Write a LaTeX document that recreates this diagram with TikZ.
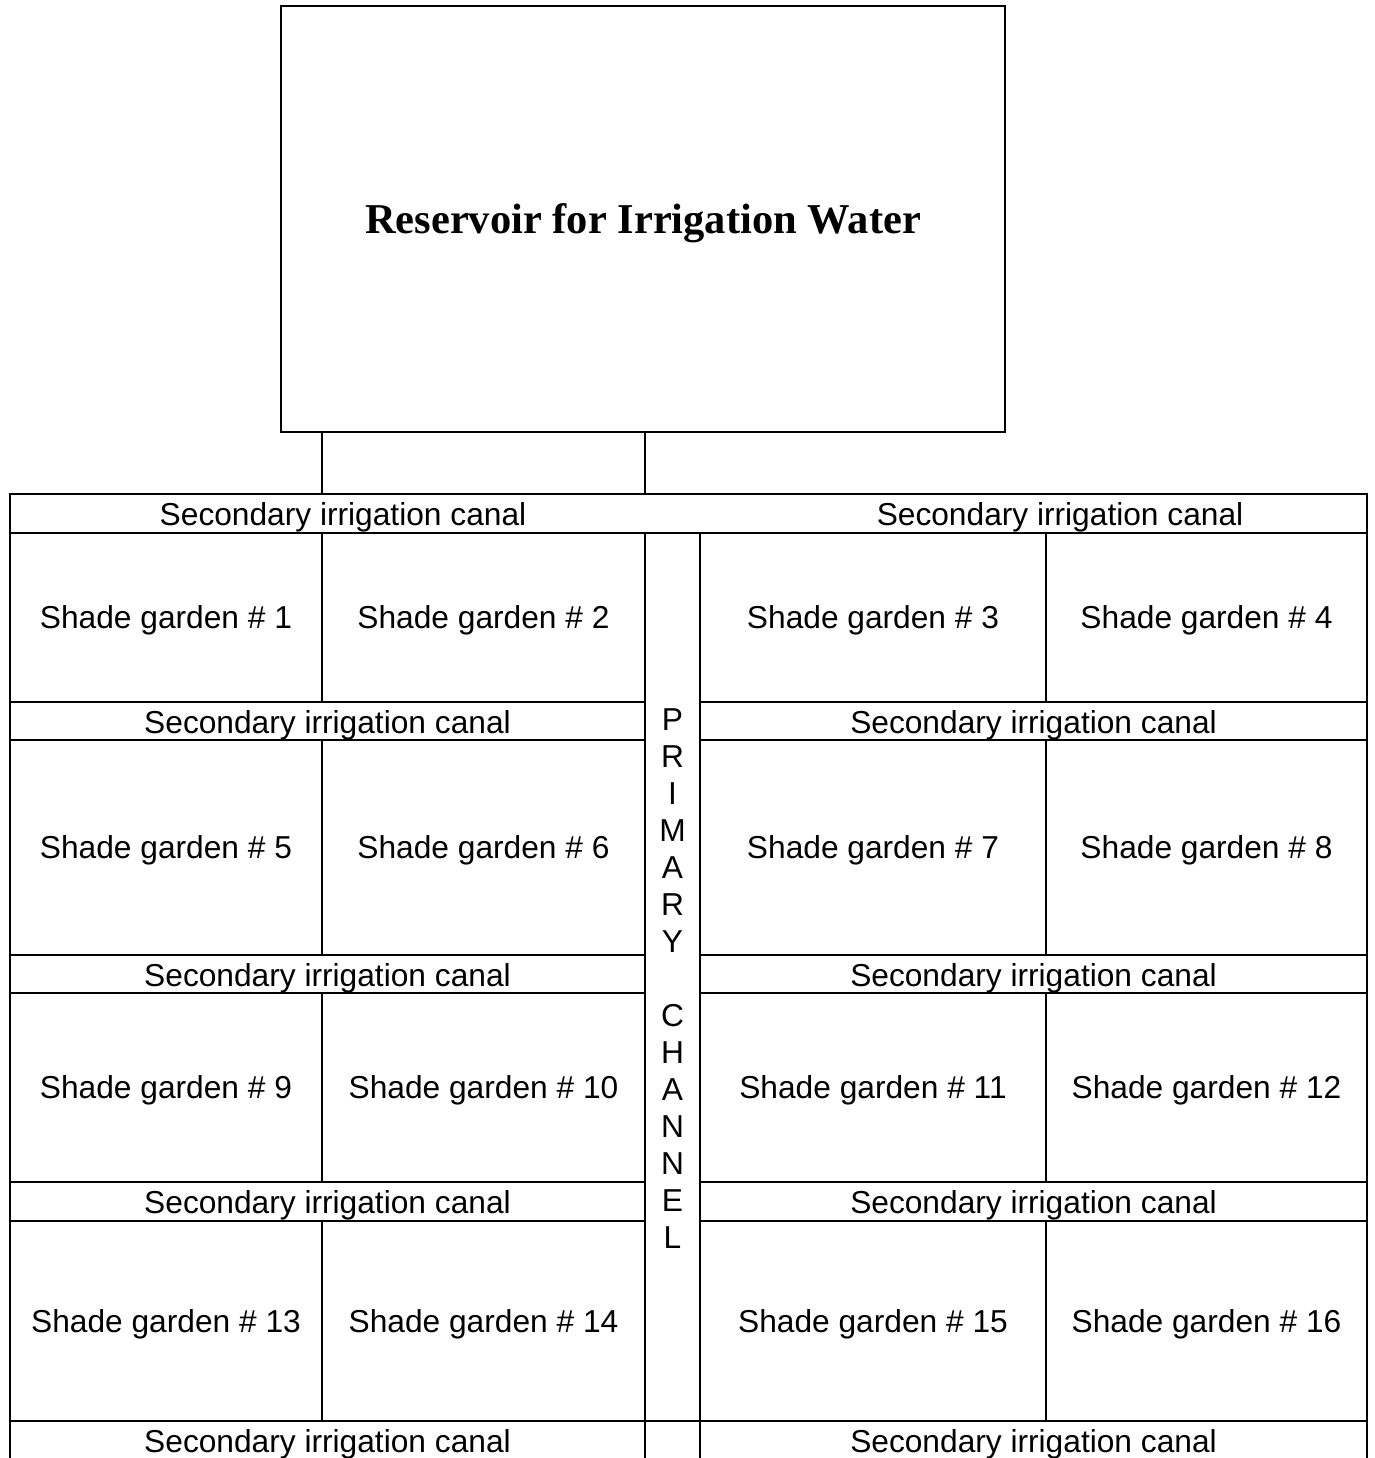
\documentclass[tikz,border=0pt]{standalone}
\usepackage{fontspec}
\setmainfont{Liberation Serif}
\newfontfamily\canalfont{Liberation Sans}

\tikzset{
  plan/.style={line width=1.6pt, line cap=rect},
  canal/.style={font=\canalfont\fontsize{31.7}{37}\selectfont, anchor=base, inner sep=0pt},
  garden/.style={canal},
  letter/.style={font=\canalfont\fontsize{31.7}{37}\selectfont, inner sep=0pt},
}

\begin{document}
\begin{tikzpicture}[x=1pt,y=-1pt]
\useasboundingbox (0,0) rectangle (1374,1458);

% columns of the field
\def \xa {10}
\def \xb {322}
\def \xc {645}
\def \xd {700}
\def \xe {1046}
\def \xf {1367}

% reservoir
\node[draw, plan, minimum width=724pt, minimum height=426pt, inner sep=0pt,
      text depth=0pt, font=\bfseries\fontsize{42.5}{50}\selectfont] (reservoir) at (643,219)
      {Reservoir for Irrigation Water};

% feeders down to the field
\coordinate (feedL) at (\xb,494);
\coordinate (feedR) at (\xc,494);
\draw[plan] (reservoir.south -| feedL) -- (feedL);
\draw[plan] (reservoir.south -| feedR) -- (feedR);

% outer frame
\draw[plan] (\xa,1458) -- (\xa,494) -- (\xf,494) -- (\xf,1458);
\draw[plan] (\xa,533) -- (\xf,533);
\draw[plan] (\xa,1421) -- (\xf,1421);

% primary channel
\draw[plan] (\xc,533) -- (\xc,1458);
\draw[plan] (\xd,533) -- (\xd,1458);

% secondary canals
\foreach \y in {702,740,955,993,1182,1221}
{
\draw[plan] (\xa,\y) -- (\xc,\y);
\draw[plan] (\xd,\y) -- (\xf,\y);
}

% gardens
\foreach \top/\bot [count=\r] in {533/702, 740/955, 993/1182, 1221/1421}
{
\draw[plan] (\xb,\top) -- (\xb,\bot);
\draw[plan] (\xe,\top) -- (\xe,\bot);
\pgfmathsetmacro \ymid {(\top+\bot)/2+11}
\foreach \xm [count=\k] in {166,483.5,873,1206.5}
{
\pgfmathtruncatemacro \n {4*(\r-1)+\k}
\node[garden] (garden\n) at (\xm,\ymid) {Shade garden \# \n};
}
}

% canal labels
\node[canal] (canalL0) at (343,525) {Secondary irrigation canal};
\node[canal] (canalR0) at (1060,525) {Secondary irrigation canal};
\foreach \y [count=\r] in {702,955,1182,1421}
{
\node[canal] (canalL\r) at (327.5,\y+31) {Secondary irrigation canal};
\node[canal] (canalR\r) at (1033.5,\y+31) {Secondary irrigation canal};
}

% primary channel label
\foreach \ch/\i in {P/0,R/1,I/2,M/3,A/4,R/5,Y/6,C/8,H/9,A/10,N/11,N/12,E/13,L/14}
{
\node[letter] (chan\i) at (672.5,{720+37*\i}) {\ch};
}

\end{tikzpicture}
\end{document}
